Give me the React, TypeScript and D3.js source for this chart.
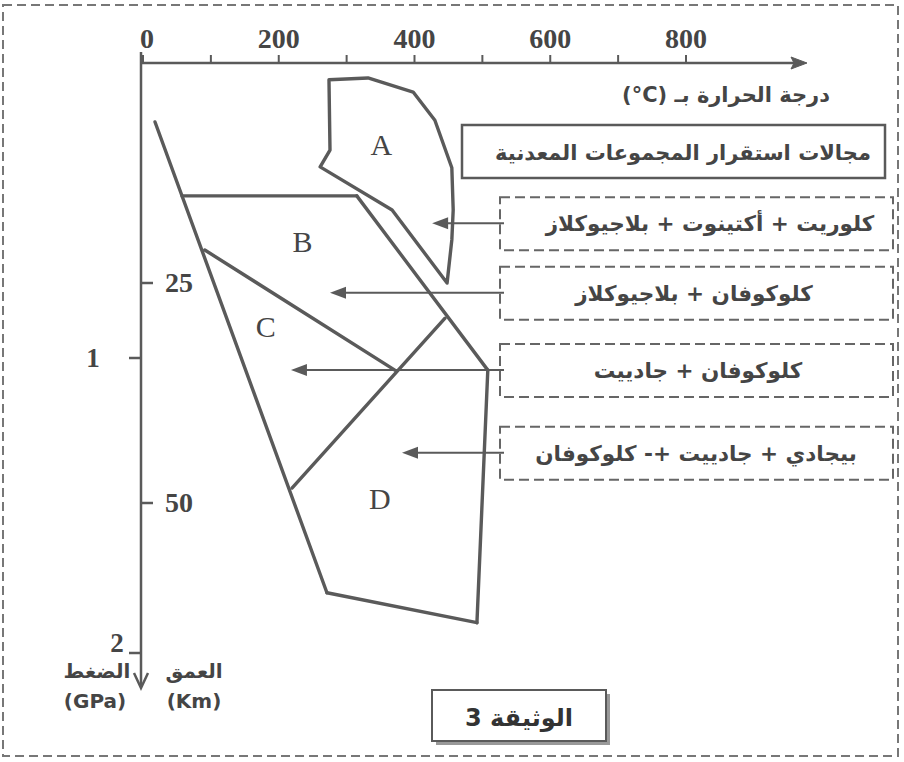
import * as d3 from "d3";

// temperature axis (°C)
const tempTicks = [0, 100, 200, 300, 400, 500, 600, 700, 800];
const tempLabels = [0, 200, 400, 600, 800];
// depth axis (km) and pressure axis (GPa)
const depthTicks = [25, 50];
const pressureTicks = [1, 2];

// domain A : [temperature, depth]
const fieldA = [
  [274, 1.9], [331.5, 1.7], [398, 3.3], [430, 6.5], [455, 11.9], [457, 16.7],
  [455, 20.1], [448, 25.0], [367, 16.7], [261, 11.8], [275.5, 9.9],
];

// limits between B, C, D
const boundaries = [
  [[17.7, 6.7], [271, 60.2]],
  [[57.5, 15.1], [315, 15.1]],
  [[315, 15.1], [508, 34.9]],
  [[91, 21.25], [371, 34.9]],
  [[445, 29], [219.5, 48.3]],
  [[508, 34.9], [492, 63.6]],
  [[271, 60.2], [492, 63.6]],
];

const regionNames = ["A", "B", "C", "D"];
const regionT = [351, 235, 181, 349];
const regionD = [9.3, 20.3, 30, 49.6];

const assemblages = [
  "كلوريت + أكتينوت + بلاجيوكلاز",
  "كلوكوفان + بلاجيوكلاز",
  "كلوكوفان + جادييت",
  "بيجادي + جادييت +- كلوكوفان",
];
const assemblageX = [710, 694, 698, 696];
const arrowT = [426, 275.5, 218, 381.6];
const arrowD = [18.2, 26.1, 34.9, 44.3];

const ink = "#454545";
const line = "#5a5a5a";
const arabic = "'DejaVu Sans', sans-serif";
const serif = "'Liberation Serif', 'DejaVu Serif', serif";

export default function App() {
  const x = d3.scaleLinear().domain([0, 800]).range([143, 686]);
  const y = d3.scaleLinear().domain([0, 50]).range([63, 503]);
  const yP = d3.scaleLinear().domain([0, 2]).range([63, 653]);

  const lineGen = d3.line<number[]>().x((d) => x(d[0])).y((d) => y(d[1]));

  const axisX = 141;
  const axisY = y(0);
  const boxLeft = 500;
  const boxRight = 893;

  return (
    <svg
      width={904}
      height={762}
      style={{ position: "absolute", left: 0, top: 0, display: "block", background: "#fff" }}
    >
      {/* page border */}
      <rect x={3} y={5} width={895} height={751} fill="none" stroke="#777" strokeWidth={2} strokeDasharray="9 5" />

      {/* temperature axis */}
      <line x1={axisX} y1={axisY} x2={800} y2={axisY} stroke={line} strokeWidth={2.5} />
      <path d={`M807,${axisY} L791,${axisY - 6} L794,${axisY} L791,${axisY + 6} Z`} fill={line} stroke={line} strokeWidth={1} />
      {tempTicks.map((t) => (
        <line key={t} x1={x(t)} x2={x(t)} y1={axisY} y2={axisY - 8} stroke={line} strokeWidth={2} />
      ))}
      {tempLabels.map((t) => (
        <text key={t} x={x(t) + (t === 0 ? 4 : 0)} y={48} textAnchor="middle" fontFamily={serif} fontWeight="bold" fontSize={28} fill={ink}>
          {t}
        </text>
      ))}
      <text x={726} y={102} textAnchor="middle" direction="rtl" fontFamily={arabic} fontWeight="bold" fontSize={21} fill={ink}>
        {"درجة الحرارة بـ \u2066(°C)\u2069"}
      </text>

      {/* depth / pressure axis */}
      <line x1={axisX} y1={52} x2={axisX} y2={687} stroke={line} strokeWidth={2.5} />
      <polyline points={`${axisX - 7},673 ${axisX},688 ${axisX + 7},673`} fill="none" stroke={line} strokeWidth={2.5} />
      {depthTicks.map((d) => (
        <g key={d}>
          <line x1={axisX} x2={axisX + 12} y1={y(d)} y2={y(d)} stroke={line} strokeWidth={2.5} />
          <text x={165} y={y(d) + 9} fontFamily={serif} fontWeight="bold" fontSize={28} fill={ink}>
            {d}
          </text>
        </g>
      ))}
      {pressureTicks.map((p) => (
        <g key={p}>
          <line x1={axisX - 12} x2={axisX} y1={yP(p)} y2={yP(p)} stroke={line} strokeWidth={2.5} />
          <text
            x={p === 2 ? 117 : 93}
            y={p === 2 ? yP(p) - 1 : yP(p) + 9}
            textAnchor="middle"
            fontFamily={serif}
            fontWeight="bold"
            fontSize={27}
            fill={ink}
          >
            {p}
          </text>
        </g>
      ))}
      <text x={97} y={678} textAnchor="middle" fontFamily={arabic} fontWeight="bold" fontSize={20} fill={ink}>الضغط</text>
      <text x={95} y={708} textAnchor="middle" fontFamily={arabic} fontWeight="bold" fontSize={20} fill={ink}>(GPa)</text>
      <text x={194} y={678} textAnchor="middle" fontFamily={arabic} fontWeight="bold" fontSize={20} fill={ink}>العمق</text>
      <text x={194} y={708} textAnchor="middle" fontFamily={arabic} fontWeight="bold" fontSize={20} fill={ink}>(Km)</text>

      {/* stability fields */}
      <path d={lineGen(fieldA) + "Z"} fill="none" stroke={line} strokeWidth={3.4} strokeLinejoin="round" />
      {boundaries.map((seg, i) => (
        <path key={i} d={lineGen(seg) ?? ""} fill="none" stroke={line} strokeWidth={3.4} strokeLinecap="round" />
      ))}
      {regionNames.map((n, i) => (
        <text key={n} x={x(regionT[i])} y={y(regionD[i]) + 10} textAnchor="middle" fontFamily={serif} fontSize={30} fill={ink}>
          {n}
        </text>
      ))}

      {/* title box */}
      <rect x={462} y={125} width={423} height={53} fill="#fff" stroke={line} strokeWidth={2.5} />
      <text x={683} y={160} textAnchor="middle" direction="rtl" fontFamily={arabic} fontWeight="bold" fontSize={21} fill={ink}>
        مجالات استقرار المجموعات المعدنية
      </text>

      {/* mineral assemblages */}
      {assemblages.map((txt, i) => {
        const cy = y(arrowD[i]);
        const tip = x(arrowT[i]);
        return (
          <g key={i}>
            <rect x={boxLeft} y={cy - 26} width={boxRight - boxLeft} height={53} fill="none" stroke="#666" strokeWidth={2} strokeDasharray="10 5" />
            <line x1={boxLeft + 4} x2={tip + 12} y1={cy} y2={cy} stroke={line} strokeWidth={2} />
            <path d={`M${tip},${cy} L${tip + 16},${cy - 6} L${tip + 16},${cy + 6} Z`} fill={line} />
            <text x={assemblageX[i]} y={cy + 8} textAnchor="middle" direction="rtl" fontFamily={arabic} fontWeight="bold" fontSize={21.5} fill={ink}>
              {txt}
            </text>
          </g>
        );
      })}

      {/* document label */}
      <rect x={436} y={694} width={174} height={51} fill="#999" />
      <rect x={432} y={690} width={174} height={51} fill="#fff" stroke={line} strokeWidth={2} />
      <text x={519} y={726} textAnchor="middle" direction="rtl" fontFamily={arabic} fontWeight="bold" fontSize={24} fill="#333">
        الوثيقة 3
      </text>
    </svg>
  );
}
